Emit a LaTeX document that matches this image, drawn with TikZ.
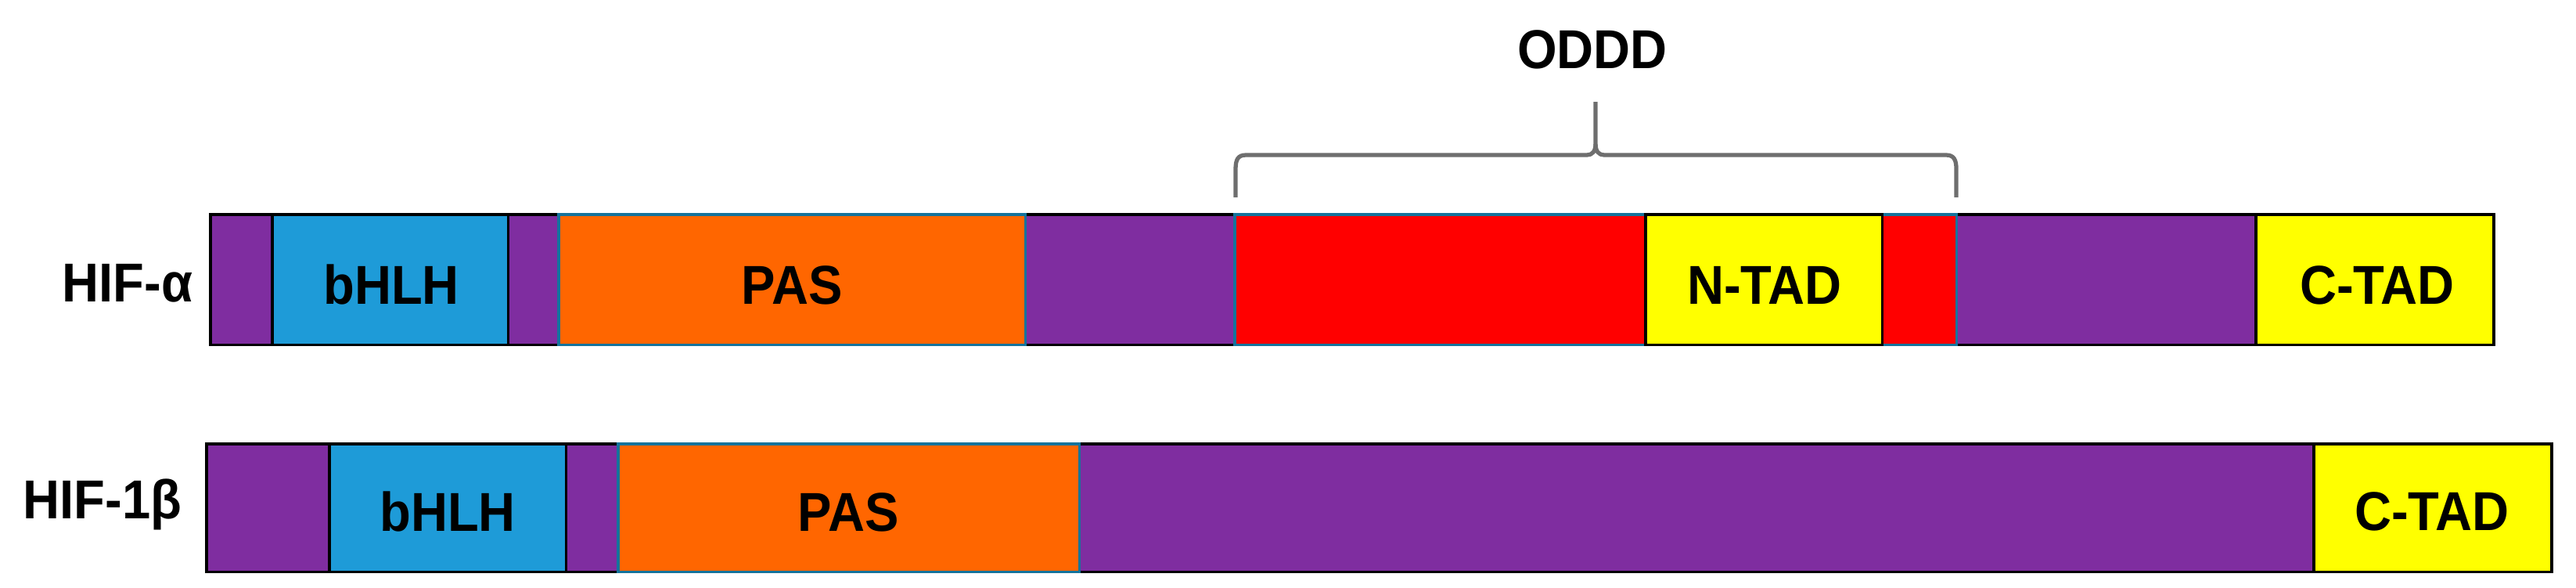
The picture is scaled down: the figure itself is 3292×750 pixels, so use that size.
\documentclass[tikz,border=0pt]{standalone}
\usepackage{fontspec}
\setmainfont{Liberation Sans}[FakeStretch=0.93]
\definecolor{hifpurple}{HTML}{7F2DA0}
\definecolor{hifblue}{HTML}{1E9BD8}
\definecolor{hiforange}{HTML}{FF6600}
\definecolor{hifred}{HTML}{FF0000}
\definecolor{hifyellow}{HTML}{FFFF00}
\definecolor{hifteal}{HTML}{15739C}
\definecolor{bracegray}{HTML}{6E6E6E}
\tikzset{
  x=0.01cm, y=-0.01cm,
  seg/.style={rectangle, anchor=north west, inner sep=0pt, outer sep=0pt, line width=0.9pt, draw=black},
  tealseg/.style={seg, draw=hifteal},
  lbl/.style={anchor=base, inner sep=0pt, font=\fontsize{19.9pt}{24pt}\selectfont\bfseries},
  bracestyle/.style={draw=bracegray, line width=1.5pt, line join=round}
}
\begin{document}
\begin{tikzpicture}
\useasboundingbox (0,0) rectangle (3292,750);
% ---------- HIF-alpha ----------
\node[seg, fill=hifpurple, minimum width=29.17cm, minimum height=1.66cm] (rowA) at (269,274) {};
\node[seg, fill=hifblue, minimum width=3.01cm, minimum height=1.66cm] (bhlhA) at (348,274) {};
\node[tealseg, fill=hiforange, minimum width=5.96cm, minimum height=1.66cm] (pasA) at (714,274) {};
\node[tealseg, fill=hifred, minimum width=9.22cm, minimum height=1.66cm] (oddd) at (1578,274) {};
\node[seg, fill=hifyellow, minimum width=3.02cm, minimum height=1.66cm] (ntad) at (2103,274) {};
\node[seg, fill=hifyellow, minimum width=3.03cm, minimum height=1.66cm] (ctadA) at (2883,274) {};
\node[lbl, anchor=base east] (labA) at (247,385) {HIF-α};
\node[lbl] (tbhlhA) at (500,388) {bHLH};
\node[lbl] (tpasA) at (1012,388) {PAS};
\node[lbl] (tntad) at (2255,388) {N-TAD};
\node[lbl] (tctadA) at (3038,388) {C-TAD};
% ---------- HIF-1beta ----------
\node[seg, fill=hifpurple, minimum width=29.96cm, minimum height=1.63cm] (rowB) at (264,567) {};
\node[seg, fill=hifblue, minimum width=3.02cm, minimum height=1.63cm] (bhlhB) at (421,567) {};
\node[tealseg, fill=hiforange, minimum width=5.89cm, minimum height=1.63cm] (pasB) at (790,567) {};
\node[seg, fill=hifyellow, minimum width=3.03cm, minimum height=1.63cm] (ctadB) at (2957,567) {};
\node[lbl, anchor=base east] (labB) at (233,662) {HIF-1β};
\node[lbl] (tbhlhB) at (572,678) {bHLH};
\node[lbl] (tpasB) at (1084,678) {PAS};
\node[lbl] (tctadB) at (3108,677) {C-TAD};
% ---------- ODDD brace ----------
\coordinate (bl) at (1579,252);
\coordinate (br) at (2500,252);
\coordinate (bc) at (2039,130);
\draw[bracestyle] (bl) -- (1579,216) .. controls (1579,204) and (1582,198) .. (1592,198)
  -- (2028,198) .. controls (2035,198) and (2039,193) .. (2039,184) -- (bc);
\draw[bracestyle] (2039,184) .. controls (2039,193) and (2043,198) .. (2050,198)
  -- (2487,198) .. controls (2497,198) and (2500,204) .. (2500,216) -- (br);
\node[lbl] (toddd) at (2035,87) {ODDD};
\end{tikzpicture}
\end{document}
